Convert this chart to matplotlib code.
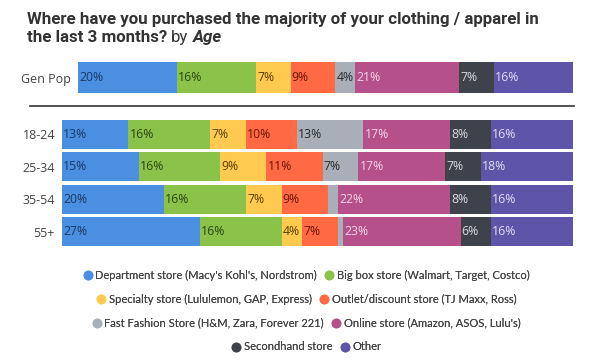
import matplotlib
matplotlib.use("Agg")
import matplotlib.pyplot as plt
from matplotlib.lines import Line2D
import numpy as np

categories = ["Department store (Macy's Kohl's, Nordstrom)",
              "Big box store (Walmart, Target, Costco)",
              "Specialty store (Lululemon, GAP, Express)",
              "Outlet/discount store (TJ Maxx, Ross)",
              "Fast Fashion Store (H&M, Zara, Forever 221)",
              "Online store (Amazon, ASOS, Lulu's)",
              "Secondhand store",
              "Other"]
colors = ["#4a8fe0", "#8bc34a", "#ffca4f", "#ff6a45", "#a9afb8", "#b5508a", "#3e434b", "#5f55a8"]
label_colors = ["#1b3a66", "#2b4410", "#5a3e00", "#6a1500", "#2a2a2a", "#f7d4e8", "#d8dadd", "#e2def7"]

genpop_label = "Gen Pop"
genpop_values = [20, 16, 7, 9, 4, 21, 7, 16]

age_groups = ["18-24", "25-34", "35-54", "55+"]
age_values = [
    [13, 16, 7, 10, 13, 17, 8, 16],
    [15, 16, 9, 11, 7, 17, 7, 18],
    [20, 16, 7, 9, 2, 22, 8, 16],
    [27, 16, 4, 7, 1, 23, 6, 16],
]

W, H = 612, 361
fig = plt.figure(figsize=(W / 100, H / 100), dpi=100)
fig.patch.set_facecolor("white")

font = "Open Sans"

def stacked(ax, rows, values, height):
    y = np.arange(len(rows))
    values = np.array(values, dtype=float)
    left = np.zeros(len(rows))
    for j in range(values.shape[1]):
        ax.barh(y, values[:, j], left=left, height=height, color=colors[j],
                edgecolor="none", label=categories[j])
        for i in range(len(rows)):
            v = values[i, j]
            if v >= 3:
                ax.text(left[i] + 0.2, y[i], f"{int(v)}%", va="center", ha="left",
                        fontsize=8.8, color=label_colors[j], family=font)
        left += values[:, j]
    ax.set_xlim(0, 100)
    ax.set_ylim(len(rows) - 0.5, -0.5)
    ax.set_yticks(y)
    ax.set_yticklabels(rows, fontsize=9, color="#444444", family=font)
    ax.tick_params(axis="y", length=0, pad=5)
    ax.set_xticks([])
    for s in ax.spines.values():
        s.set_visible(False)

ax1 = fig.add_axes([78 / W, 1 - 93 / H, 495 / W, 31 / H])
stacked(ax1, [genpop_label], [genpop_values], 1.0)

ax2 = fig.add_axes([62 / W, 1 - 248 / H, 511 / W, 130 / H])
stacked(ax2, age_groups, age_values, 0.9)

fig.add_artist(Line2D([30 / W, 574 / W], [1 - 106 / H, 1 - 106 / H], color="#333333", lw=1.2))

TS = 12.2
TX = 27 / W
fig.text(TX, 1 - 24 / H, "Where have you purchased the majority of your clothing / apparel in",
         fontsize=TS, fontweight="bold", family="Roboto", color="#333333", va="baseline")
fig.canvas.draw()
r = fig.canvas.get_renderer()
t1 = fig.text(TX, 1 - 42 / H, "the last 3 months?", fontsize=TS, fontweight="bold",
              family="Roboto", color="#333333", va="baseline")
bb = t1.get_window_extent(r)
t2 = fig.text(bb.x1 / W + 4 / W, 1 - 42 / H, "by", fontsize=TS, family="Roboto",
              color="#333333", va="baseline")
bb2 = t2.get_window_extent(r)
fig.text(bb2.x1 / W + 4 / W, 1 - 42 / H, "Age", fontsize=TS, fontweight="bold", style="italic",
         family="Roboto", color="#333333", va="baseline")

rows = [(0, 1), (2, 3), (4, 5), (6, 7)]
ys = [275, 299, 323, 347]
for (a, b), yy in zip(rows, ys):
    handles = [Line2D([], [], marker="o", ls="none", markersize=6, color=colors[k]) for k in (a, b)]
    leg = fig.legend(handles, [categories[a], categories[b]], loc="center",
                     bbox_to_anchor=(0.5, 1 - yy / H), ncol=2, frameon=False,
                     prop={"family": "Lato", "size": 8}, labelcolor="#444444",
                     handletextpad=0.2, columnspacing=0.6, handlelength=1.0,
                     borderaxespad=0, borderpad=0)
    fig.add_artist(leg)

fig.savefig("out.png", dpi=100, facecolor="white")
